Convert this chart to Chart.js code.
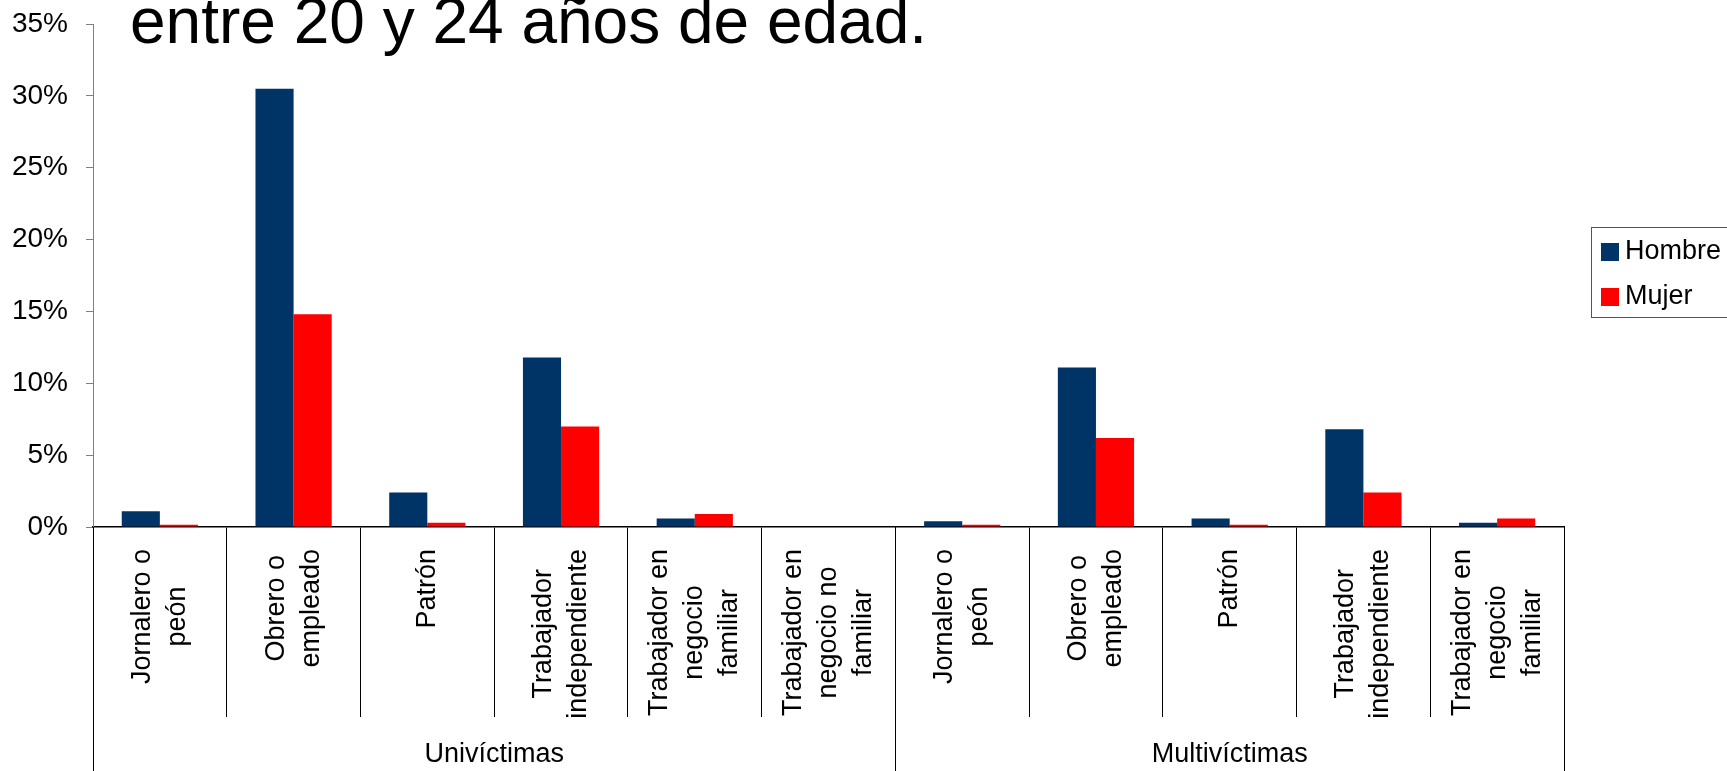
<!DOCTYPE html>
<html lang="es">
  <head>
    <meta charset="UTF-8" />
    <script src="https://cdn.jsdelivr.net/npm/chart.js@4.4.0/dist/chart.umd.min.js"></script>
    <title>entre 20 y 24 años de edad.</title>
    <style>
      body {
        margin: 0;
        padding: 0;
        background: white;
      }

      .container {
        width: 1727px;
        height: 771px;
      }
    </style>
  </head>
  <body>
    <div class="container">
      <canvas id="chart"></canvas>
    </div>
    <script>
      const titleText = 'entre 20 y 24 años de edad.'
      const categories = [
        ['Jornalero o', 'peón'],
        ['Obrero o', 'empleado'],
        ['Patrón'],
        ['Trabajador', 'independiente'],
        ['Trabajador en', 'negocio', 'familiar'],
        ['Trabajador en', 'negocio no', 'familiar'],
        ['Jornalero o', 'peón'],
        ['Obrero o', 'empleado'],
        ['Patrón'],
        ['Trabajador', 'independiente'],
        ['Trabajador en', 'negocio', 'familiar'],
      ]
      const groups = ['Univíctimas', 'Multivíctimas']
      const groupSizes = [6, 5]
      const hombre = [1.1, 30.5, 2.4, 11.8, 0.6, 0, 0.4, 11.1, 0.6, 6.8, 0.3]
      const mujer = [0.15, 14.8, 0.3, 7.0, 0.9, 0, 0.15, 6.2, 0.15, 2.4, 0.6]
      const yTicks = [0, 5, 10, 15, 20, 25, 30, 35]

      const FONT = '"Liberation Sans", Arial, sans-serif'

      // title, x labels, group labels and the legend box are drawn by hand
      const extras = {
        id: 'extras',
        afterDraw(chart) {
          const ctx = chart.ctx
          const xs = chart.scales.x
          ctx.save()

          // title, partly cut off at the top
          ctx.fillStyle = '#000'
          ctx.font = '64px ' + FONT
          ctx.textAlign = 'left'
          ctx.textBaseline = 'alphabetic'
          ctx.fillText(titleText, 130, 43)

          // category labels, rotated, lines centred
          ctx.font = '27px ' + FONT
          ctx.textAlign = 'center'
          ctx.textBaseline = 'middle'
          categories.forEach((lines, i) => {
            const cx = xs.getPixelForValue(i)
            const w = Math.max(...lines.map((l) => ctx.measureText(l).width))
            const top = xs.top + 22
            lines.forEach((line, j) => {
              const x = cx + (j - (lines.length - 1) / 2) * 35
              ctx.save()
              ctx.translate(x, top + w / 2)
              ctx.rotate(-Math.PI / 2)
              ctx.fillText(line, 0, 0)
              ctx.restore()
            })
          })

          // group separators and labels
          ctx.strokeStyle = '#000'
          ctx.lineWidth = 1
          let start = 0
          const edges = [xs.left]
          groupSizes.forEach((n) => {
            const end = start + n
            const right =
              end < categories.length
                ? (xs.getPixelForValue(end - 1) + xs.getPixelForValue(end)) / 2
                : xs.right
            edges.push(right)
            start = end
          })
          edges.forEach((x) => {
            const px = Math.round(x) + 0.5
            ctx.beginPath()
            ctx.moveTo(px, xs.top)
            ctx.lineTo(px, chart.height)
            ctx.stroke()
          })
          groups.forEach((g, i) => {
            ctx.fillText(g, (edges[i] + edges[i + 1]) / 2, 755)
          })

          // legend
          ctx.strokeStyle = '#555'
          ctx.strokeRect(1591.5, 227.5, 150, 90)
          ctx.textAlign = 'left'
          chart.data.datasets.forEach((ds, i) => {
            const cy = 252 + i * 45
            ctx.fillStyle = ds.backgroundColor
            ctx.fillRect(1601, cy - 9, 18, 18)
            ctx.fillStyle = '#000'
            ctx.fillText(ds.label, 1625, cy)
          })

          ctx.restore()
        },
      }

      const ctx = document.getElementById('chart').getContext('2d')
      const chart = new Chart(ctx, {
        type: 'bar',
        data: {
          labels: categories,
          datasets: [
            {
              label: 'Hombre',
              data: hombre,
              backgroundColor: '#003366',
              categoryPercentage: 0.57,
              barPercentage: 1.0,
            },
            {
              label: 'Mujer',
              data: mujer,
              backgroundColor: '#FF0000',
              categoryPercentage: 0.57,
              barPercentage: 1.0,
            },
          ],
        },
        options: {
          responsive: true,
          maintainAspectRatio: false,
          animation: false,
          layout: {
            padding: { left: 0, top: 24, right: 163, bottom: 0 },
          },
          plugins: {
            legend: { display: false },
            title: { display: false },
            tooltip: {
              callbacks: {
                label: (c) => c.dataset.label + ': ' + c.parsed.y + '%',
              },
            },
          },
          scales: {
            x: {
              ticks: { display: false },
              grid: {
                offset: true,
                drawOnChartArea: false,
                tickLength: 190,
                color: '#000',
                lineWidth: 1,
              },
              border: { color: '#000', width: 1.5 },
              afterFit: (s) => {
                s.height = 244
              },
            },
            y: {
              min: yTicks[0],
              max: yTicks[yTicks.length - 1],
              afterBuildTicks: (s) => {
                s.ticks = yTicks.map((v) => ({ value: v }))
              },
              afterFit: (s) => {
                s.width = 93
                s.paddingTop = 0
              },
              ticks: {
                color: '#000',
                font: { size: 28, family: FONT, lineHeight: 0.6 },
                padding: 18,
                callback: (v) => v + '%',
              },
              grid: {
                drawOnChartArea: false,
                tickLength: 7,
                color: '#808080',
              },
              border: { color: '#808080', width: 1 },
            },
          },
        },
        plugins: [extras],
      })
    </script>
  </body>
</html>
